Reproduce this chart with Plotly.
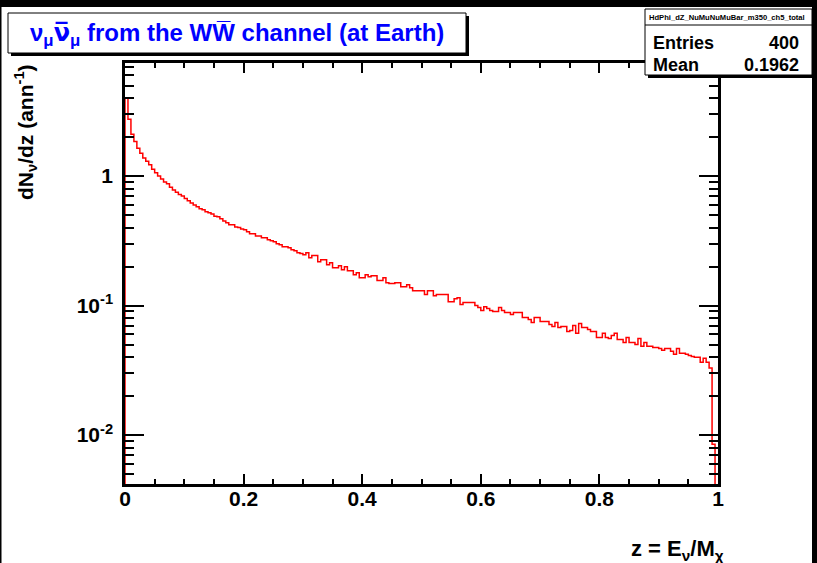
import numpy as np
import plotly.graph_objects as go

# dN/dz per bin, 200 equal bins on z in [0, 1]
dndz = [
    3.98, 2.74, 2.10, 1.85, 1.64, 1.50, 1.38, 1.30, 1.22, 1.13,
    1.06, 1.00, 0.95, 0.90, 0.87, 0.82, 0.78, 0.75, 0.72, 0.70,
    0.67, 0.645, 0.62, 0.598, 0.578, 0.56, 0.548, 0.529, 0.52, 0.51,
    0.49, 0.484, 0.467, 0.45, 0.435, 0.42, 0.42, 0.405, 0.40, 0.39,
    0.384, 0.371, 0.358, 0.358, 0.345, 0.345, 0.334, 0.334, 0.322, 0.316,
    0.311, 0.30, 0.295, 0.284, 0.284, 0.279, 0.27, 0.265, 0.256, 0.252,
    0.247, 0.256, 0.234, 0.243, 0.243, 0.218, 0.226, 0.226, 0.207, 0.214,
    0.196, 0.196, 0.203, 0.189, 0.1995, 0.186, 0.186, 0.173, 0.179, 0.164,
    0.164, 0.173, 0.167, 0.170, 0.170, 0.156, 0.156, 0.164, 0.150, 0.148,
    0.148, 0.150, 0.150, 0.140, 0.140, 0.145, 0.1375, 0.130, 0.130, 0.130,
    0.130, 0.1215, 0.130, 0.130, 0.119, 0.1215, 0.1215, 0.1215, 0.1215, 0.107,
    0.107, 0.113, 0.115, 0.102, 0.1055, 0.1055, 0.1055, 0.1055, 0.100, 0.0966,
    0.0916, 0.098, 0.0948, 0.0916, 0.090, 0.090, 0.0966, 0.0916, 0.0884, 0.0884,
    0.0853, 0.0884, 0.0884, 0.0884, 0.081, 0.081, 0.078, 0.074, 0.081, 0.081,
    0.0753, 0.0753, 0.0753, 0.0714, 0.069, 0.074, 0.0678, 0.069, 0.069, 0.063,
    0.0642, 0.0702, 0.061, 0.0727, 0.0678, 0.0678, 0.0654, 0.063, 0.063, 0.0567,
    0.0567, 0.061, 0.0567, 0.0557, 0.0588, 0.061, 0.0547, 0.0547, 0.0519, 0.0567,
    0.0519, 0.0519, 0.050, 0.0557, 0.0484, 0.0519, 0.0484, 0.0484, 0.0475, 0.0475,
    0.0467, 0.0451, 0.0467, 0.0467, 0.0443, 0.042, 0.0467, 0.0428, 0.0428, 0.042,
    0.0412, 0.0405, 0.0398, 0.0398, 0.0365, 0.0391, 0.0365, 0.033, 0.0085, 0.0,
]
z_lo, z_hi = 0.0, 1.0

x_tick_vals = [0, 0.2, 0.4, 0.6, 0.8, 1.0]
x_tick_text = ["0", "0.2", "0.4", "0.6", "0.8", "1"]
y_tick_vals = [0.01, 0.1, 1.0]
y_tick_text = ["10<sup>-2</sup>", "10<sup>-1</sup>", "1"]

hist_name = "HdPhi_dZ_NuMuNuMuBar_m350_ch5_total"
stat_entries = "400"
stat_mean = "0.1962"

y_min, y_max = 0.00419, 7.46

# ---- step outline of the histogram ----
nbins = len(dndz)
edges = np.linspace(z_lo, z_hi, nbins + 1)
floor = 1e-6  # empty bins fall below the visible range
vals = [v if v > 0 else floor for v in dndz]
xs = [edges[0]] + list(edges[:-1]) + [edges[-1]]
ys = [floor] + vals + [vals[-1]]

W, H = 817, 563
L, R, T, B = 125, 718, 63, 484


def pxx(x):
    return (x - L) / (R - L)


def pxy(y):
    return (B - y) / (B - T)


FONT = "Liberation Sans, Arial, Helvetica, sans-serif"

fig = go.Figure()
fig.add_trace(go.Scatter(
    x=xs, y=ys, mode="lines", line_shape="hv",
    line=dict(color="#ff0000", width=1.5), hoverinfo="skip",
))

minor_y = [m * 10.0 ** e for e in range(-3, 1) for m in range(2, 10)]
minor_y = [v for v in minor_y if y_min < v < y_max]

fig.update_xaxes(
    range=[z_lo, z_hi], showline=True, linecolor="black", linewidth=2.5,
    mirror="ticks", ticks="inside", ticklen=10, tickwidth=1.5, tickcolor="black",
    tickmode="array", tickvals=x_tick_vals, ticktext=x_tick_text,
    tickfont=dict(family=FONT, size=21, color="black", weight="bold"),
    minor=dict(ticks="inside", ticklen=5, tickwidth=1.5, tickcolor="black",
               dtick=0.05, showgrid=False),
    showgrid=False, zeroline=False, ticklabelstandoff=-6,
)
fig.update_yaxes(
    type="log", range=[np.log10(y_min), np.log10(y_max)],
    showline=True, linecolor="black", linewidth=2.5,
    mirror="ticks", ticks="inside", ticklen=19, tickwidth=1.5, tickcolor="black",
    tickmode="array", tickvals=y_tick_vals, ticktext=y_tick_text,
    tickfont=dict(family=FONT, size=21, color="black", weight="bold"),
    minor=dict(ticks="inside", ticklen=9, tickwidth=1.5, tickcolor="black",
               tickmode="array", tickvals=minor_y, showgrid=False),
    showgrid=False, zeroline=False, ticklabelstandoff=5,
)

shapes = []
# window edges
shapes.append(dict(type="rect", xref="paper", yref="paper", layer="above",
                   x0=pxx(0), x1=pxx(W), y0=pxy(0), y1=pxy(7),
                   fillcolor="black", line=dict(width=0)))
shapes.append(dict(type="rect", xref="paper", yref="paper", layer="above",
                   x0=pxx(812), x1=pxx(W), y0=pxy(H), y1=pxy(0),
                   fillcolor="black", line=dict(width=0)))
shapes.append(dict(type="rect", xref="paper", yref="paper", layer="above",
                   x0=pxx(0), x1=pxx(1.5), y0=pxy(H), y1=pxy(0),
                   fillcolor="black", line=dict(width=0)))


def pave(x0, y0, x1, y1, shadow=3):
    shapes.append(dict(type="rect", xref="paper", yref="paper", layer="above",
                       x0=pxx(x0 + shadow), x1=pxx(x1 + shadow),
                       y0=pxy(y1 + shadow), y1=pxy(y0 + shadow),
                       fillcolor="black", line=dict(width=0)))
    shapes.append(dict(type="rect", xref="paper", yref="paper", layer="above",
                       x0=pxx(x0), x1=pxx(x1), y0=pxy(y1), y1=pxy(y0),
                       fillcolor="white", line=dict(color="black", width=1)))


pave(8, 13, 466, 53)
pave(645, 9, 812, 75)
shapes.append(dict(type="line", xref="paper", yref="paper", layer="above",
                   x0=pxx(645), x1=pxx(812), y0=pxy(25), y1=pxy(25),
                   line=dict(color="black", width=1)))

ann = []


def text(x, y, s, size, xanchor="left", yanchor="middle", color="black", angle=0):
    ann.append(dict(xref="paper", yref="paper", x=pxx(x), y=pxy(y), text=s,
                    showarrow=False, xanchor=xanchor, yanchor=yanchor,
                    textangle=angle,
                    font=dict(family=FONT, size=size, color=color, weight="bold")))


nubar = '<span style="font-family:DejaVu Sans">ν\u0305</span>'
text(237, 34, "ν<sub>μ</sub>" + nubar + "<sub>μ</sub> from the WW\u0305 channel (at Earth)",
     24, xanchor="center", color="#0000ff")
text(727, 17, hist_name, 7.6, xanchor="center")
text(651, 43, "Entries", 18)
text(801, 43, stat_entries, 18, xanchor="right")
text(651, 65, "Mean", 18)
text(801, 65, stat_mean, 18, xanchor="right")
text(726, 550, "z = E<sub>ν</sub>/M<sub>χ</sub>", 22, xanchor="right")
text(25, 62, "dN<sub>ν</sub>/dz (ann<sup>-1</sup>)", 21, xanchor="center",
     yanchor="top", angle=-90)

fig.update_layout(
    width=W, height=H, autosize=False,
    margin=dict(l=L, r=W - R, t=T, b=H - B, pad=0),
    paper_bgcolor="white", plot_bgcolor="white", showlegend=False,
    shapes=shapes, annotations=ann,
)

fig.write_html("out.html")
